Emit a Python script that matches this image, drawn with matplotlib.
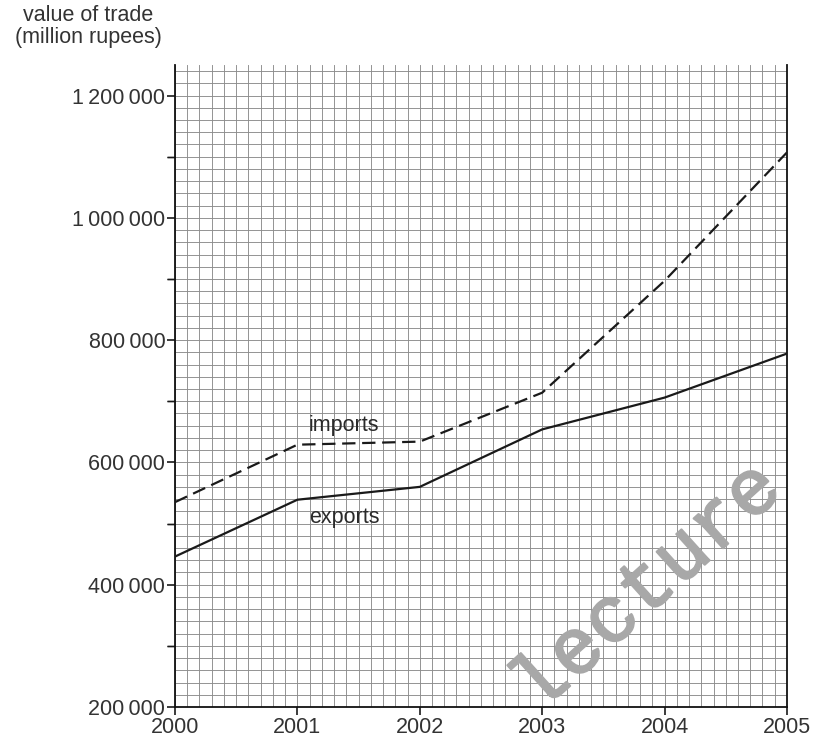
import matplotlib.pyplot as plt
import matplotlib.patheffects as pe
from matplotlib.ticker import MultipleLocator, FuncFormatter

years = [2000, 2001, 2002, 2003, 2004, 2005]
exports = [446000, 539000, 560000, 654000, 706000, 778000]
imports = [535000, 629000, 634000, 714000, 897000, 1107000]
year_labels = ['2000', '2001', '2002', '2003', '2004', '2005']

plt.rcParams['font.family'] = ['Liberation Sans', 'DejaVu Sans']

fig = plt.figure(figsize=(8.15, 7.4), dpi=100)
ax = fig.add_axes([0.2147, 0.0446, 0.7509, 0.8676])

ax.set_xlim(2000, 2005)
ax.set_ylim(200000, 1250000)

# graph paper grid
ax.xaxis.set_minor_locator(MultipleLocator(0.1))
ax.yaxis.set_minor_locator(MultipleLocator(20000))
ax.grid(which='both', color='#8c8c8c', linewidth=0.65, zorder=0)
ax.set_axisbelow(True)

ax.plot(years, exports, color='#1a1a1a', linewidth=1.6, zorder=3)
ax.plot(years, imports, color='#1a1a1a', linewidth=1.6, dashes=(6, 3), zorder=3)

ax.text(2001.38, 661000, 'imports', fontsize=15.5, color='#2a2a2a',
        ha='center', va='center', zorder=4)
ax.text(2001.38, 510000, 'exports', fontsize=15.5, color='#2a2a2a',
        ha='center', va='center', zorder=4)

ax.set_xticks(years)
ax.set_xticklabels(year_labels)
ax.set_yticks(range(200000, 1200001, 200000))
ax.yaxis.set_major_formatter(FuncFormatter(lambda v, p: f'{int(v):,}'.replace(',', '\u2009')))

# only outward ticks at years and every 100 000
ax.tick_params(which='minor', length=0)
ax.tick_params(which='major', direction='out', length=6, width=1.2,
               labelsize=15.5, colors='#1a1a1a', pad=1)
for t in ax.get_xticklabels() + ax.get_yticklabels():
    t.set_color('#333333')
for v in range(300000, 1200001, 200000):
    ax.plot([2000, 2000], [v, v], color='#1a1a1a', linewidth=1.2,
            marker=0, markersize=6, clip_on=False)

ax.spines['top'].set_visible(False)
for s in ['left', 'bottom', 'right']:
    ax.spines[s].set_color('#111111')
    ax.spines[s].set_linewidth(1.3)

fig.text(0.108, 0.993, 'value of trade\n(million rupees)', fontsize=15.5,
         color='#333333', ha='center', va='top', linespacing=1.05)

# watermark
fig.text(0.795, 0.205, 'lecture', fontsize=57, fontfamily='Liberation Mono',
         color='#a8a8a8', rotation=42, rotation_mode='anchor',
         ha='center', va='center', zorder=10,
         path_effects=[pe.withStroke(linewidth=1.5, foreground='#a8a8a8')])

fig.savefig('out.png', dpi=100)
